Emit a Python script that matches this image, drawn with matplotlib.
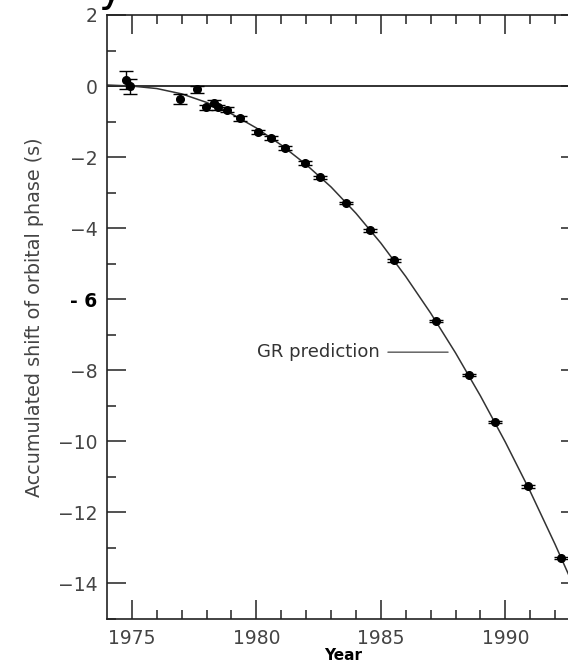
import matplotlib.pyplot as plt
import numpy as np

# measured orbital phase shift of the binary pulsar
years = [1974.78, 1974.94, 1976.94, 1977.61, 1977.96, 1978.28, 1978.45, 1978.83,
         1979.33, 1980.07, 1980.60, 1981.16, 1981.94, 1982.57, 1983.60, 1984.55,
         1985.52, 1987.20, 1988.54, 1989.60, 1990.90, 1992.24]
shift = [0.17, -0.01, -0.37, -0.09, -0.60, -0.47, -0.60, -0.66,
         -0.91, -1.30, -1.46, -1.74, -2.16, -2.57, -3.29, -4.06,
         -4.90, -6.61, -8.14, -9.46, -11.27, -13.28]
shift_err = [0.25, 0.20, 0.14, 0.10, 0.08, 0.08, 0.08, 0.07,
             0.06, 0.06, 0.06, 0.05, 0.05, 0.05, 0.04, 0.04,
             0.04, 0.03, 0.03, 0.03, 0.03, 0.03]

# GR prediction curve
gr_years = [1974, 1975, 1976, 1977, 1978, 1979, 1980, 1981, 1982, 1983,
            1984, 1985, 1986, 1987, 1988, 1989, 1990, 1991, 1992, 1993]
gr_shift = [0.03, 0.0, -0.07, -0.22, -0.46, -0.78, -1.18, -1.66, -2.21, -2.84,
            -3.58, -4.42, -5.36, -6.39, -7.51, -8.72, -10.02, -11.41, -12.90, -14.47]

y_ticks = [-14, -12, -10, -8, -6, -4, -2, 0, 2]
y_labels = ["\u221214", "\u221212", "\u221210", "\u22128", "- 6", "\u22124", "\u22122", "0", "2"]

W, H = 568, 669
fig = plt.figure(figsize=(W / 100, H / 100), dpi=100)
ax = fig.add_axes([107 / W, 50 / H, (580 - 107) / W, (619 - 15) / H])

ink = "#222222"
ax.plot(gr_years, gr_shift, color="#333333", lw=1.1, zorder=2)
ax.axhline(0, color=ink, lw=1.3, zorder=1)
ax.errorbar(years, shift, yerr=shift_err, fmt="o", color="black", ms=5.5,
            capsize=5, elinewidth=1, capthick=1, zorder=3)

ax.annotate("GR prediction", xy=(1987.7, -7.49), xytext=(1984.95, -7.49),
            ha="right", va="center", fontsize=13, color="#333333",
            arrowprops=dict(arrowstyle="-", color="#555555", lw=1,
                            shrinkA=4, shrinkB=0))

ax.set_xlim(1974, 1993)
ax.set_ylim(-15, 2)
ax.set_xticks([1975, 1980, 1985, 1990])
ax.set_xticks(np.arange(1975, 1993), minor=True)
ax.set_yticks(y_ticks)
ax.set_yticklabels(y_labels)
ax.set_yticks(np.arange(-15, 2, 1), minor=True)

ax.tick_params(which="both", direction="in", top=True, right=True,
               color=ink, width=1.1, labelsize=13.5, labelcolor="#444444", pad=7)
ax.tick_params(which="major", length=13.5)
ax.tick_params(which="minor", length=6.5)
for lab in ax.get_yticklabels():
    if lab.get_text() == "- 6":
        lab.set_fontweight("bold")
        lab.set_color("black")

for sp in ax.spines.values():
    sp.set_color(ink)
    sp.set_linewidth(1.2)

ax.set_xlabel("Year", fontsize=11, fontweight="bold", labelpad=0, color="black")
ax.set_ylabel("Accumulated shift of orbital phase (s)", fontsize=13.8,
              color="#444444", labelpad=10)

# bottom of a large glyph from the caption above the figure
fig.text(99 / W, 1 - 1 / H, "y", fontsize=30, va="baseline", color="black")

fig.savefig("out.png", dpi=100)
